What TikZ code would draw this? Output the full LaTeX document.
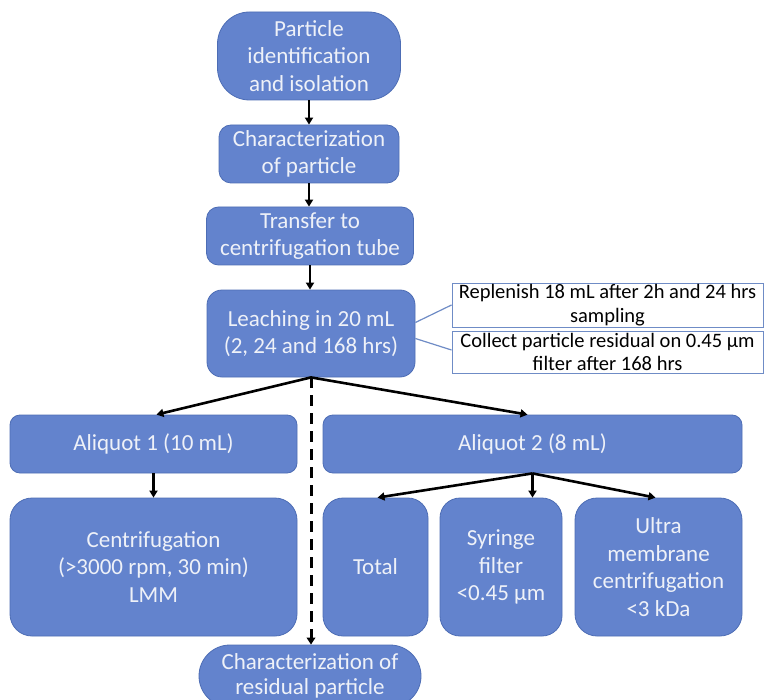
\documentclass[tikz,border=0pt]{standalone}
\usepackage{fontspec}
\setmainfont{Carlito}
\usetikzlibrary{arrows.meta,calc}
\definecolor{boxfill}{HTML}{6383CD}
\definecolor{boxline}{HTML}{4D6DB5}
\definecolor{txtcol}{HTML}{EEF1F8}
\definecolor{callline}{HTML}{6F8CC6}
\tikzset{
  flowbox/.style={draw=boxline, line width=0.8pt, fill=boxfill, text=txtcol, align=center,
    inner sep=0pt, font=\fontsize{23}{27.5}\selectfont},
  callbox/.style={draw=callline, line width=1pt, fill=white, text=black, align=center,
    inner sep=0pt, font=\fontsize{20.5}{23.5}\selectfont},
  flowarrow/.style={draw=black, line width=2.6pt, -{Triangle[length=7pt,width=8pt]}},
  callconn/.style={draw=callline, line width=1.2pt},
  dasharrow/.style={draw=black, line width=3pt, dash pattern=on 11pt off 7pt,
    -{Triangle[length=7pt,width=8.5pt]}}
}
\begin{document}
\begin{tikzpicture}[x=1pt,y=-1pt]
\useasboundingbox (0,0) rectangle (767,700);
\clip (0,0) rectangle (767,700);
\fill[white] (0,0) rectangle (767,700);

% main column
\node[flowbox, minimum width=183pt, minimum height=88pt, rounded corners=32pt] (n1) at (309,56)
  {Particle\\identification\\and isolation};
\node[flowbox, minimum width=180pt, minimum height=58pt, rounded corners=12pt] (n2) at (309,154)
  {Characterization\\of particle};
\node[flowbox, minimum width=207pt, minimum height=58pt, rounded corners=12pt] (n3) at (310,236)
  {Transfer to\\centrifugation tube};
\node[flowbox, minimum width=208pt, minimum height=87pt, rounded corners=15pt] (n4) at (311,333.5)
  {Leaching in 20 mL\\(2, 24 and 168 hrs)};

% callouts
\node[callbox, minimum width=311pt, minimum height=44pt] (c1) at (607.5,305)
  {Replenish 18 mL after 2h and 24 hrs\\sampling};
\node[callbox, minimum width=311pt, minimum height=42pt] (c2) at (607.5,352)
  {Collect particle residual on 0.45 µm\\filter after 168 hrs};

% aliquots
\node[flowbox, minimum width=287pt, minimum height=58pt, rounded corners=10pt] (a1) at (153.5,444)
  {Aliquot 1 (10 mL)};
\node[flowbox, minimum width=419pt, minimum height=58pt, rounded corners=10pt] (a2) at (532.5,444)
  {Aliquot 2 (8 mL)};

% bottom row
\node[flowbox, minimum width=287pt, minimum height=138pt, rounded corners=22pt] (b1) at (153.5,567)
  {Centrifugation\\(>3000 rpm, 30 min)\\LMM};
\node[flowbox, minimum width=105pt, minimum height=138pt, rounded corners=20pt] (b2) at (375.5,567)
  {Total};
\node[flowbox, minimum width=122pt, minimum height=138pt, rounded corners=20pt] (b3) at (501,567)
  {Syringe\\filter\\<0.45 µm};
\node[flowbox, minimum width=167pt, minimum height=138pt, rounded corners=22pt] (b4) at (658.5,567)
  {Ultra\\membrane\\centrifugation\\<3 kDa};

% residual
\node[flowbox, minimum width=222pt, minimum height=62pt, rounded corners=31pt,
  font=\fontsize{23}{25}\selectfont] (r) at (310,676)
  {Characterization of\\residual particle};

% connectors
\draw[flowarrow] (n1.south) -- (n1.south |- n2.north);
\draw[flowarrow] (n2.south) -- (n2.south |- n3.north);
\draw[flowarrow] (n3.south) -- (n3.south |- n4.north);
\draw[flowarrow] (n4.south) -- ([xshift=3pt]a1.north);
\draw[flowarrow] (n4.south) -- ([xshift=-5pt]a2.north);
\draw[dasharrow] (n4.south) -- (n4.south |- r.north);
\draw[flowarrow] (a1.south) -- (a1.south |- b1.north);
\draw[flowarrow] (a2.south) -- ([xshift=2pt]b2.north);
\draw[flowarrow] (a2.south) -- (a2.south |- b3.north);
\draw[flowarrow] (a2.south) -- ([xshift=-3pt]b4.north);
\draw[callconn] ($(n4.east)+(0,-11)$) -- (c1.west);
\draw[callconn] ($(n4.east)+(0,5)$) -- ($(c2.west)+(0,-2)$);
\end{tikzpicture}
\end{document}
